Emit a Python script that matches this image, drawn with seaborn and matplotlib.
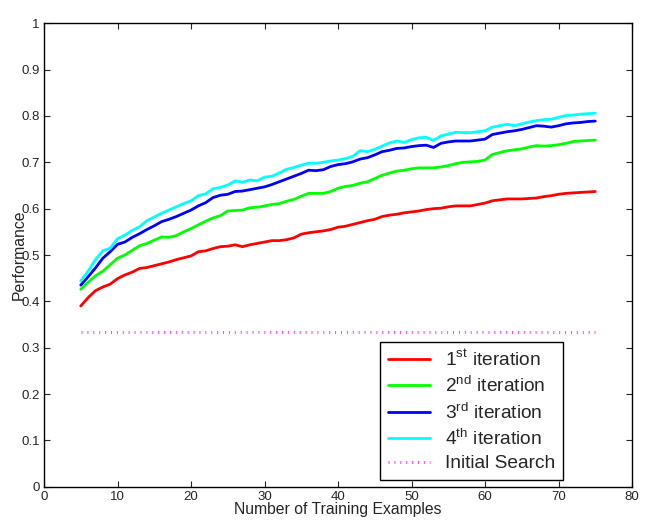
import matplotlib
matplotlib.use("Agg")
import matplotlib.pyplot as plt
import numpy as np
import pandas as pd
import seaborn as sns

# number of training examples
examples = list(range(5, 76))

iter1 = [0.390, 0.408, 0.423, 0.431, 0.437, 0.449, 0.457, 0.463, 0.471, 0.473,
         0.477, 0.481, 0.485, 0.490, 0.494, 0.498, 0.507, 0.509, 0.514, 0.518,
         0.519, 0.522, 0.518, 0.522, 0.525, 0.528, 0.531, 0.531, 0.533, 0.537,
         0.545, 0.548, 0.550, 0.552, 0.555, 0.560, 0.562, 0.566, 0.570, 0.574,
         0.577, 0.583, 0.586, 0.588, 0.591, 0.593, 0.595, 0.598, 0.600, 0.601,
         0.604, 0.606, 0.606, 0.606, 0.609, 0.612, 0.617, 0.619, 0.621, 0.621,
         0.621, 0.622, 0.623, 0.626, 0.628, 0.631, 0.633, 0.634, 0.635, 0.636,
         0.637]
iter2 = [0.426, 0.441, 0.455, 0.465, 0.479, 0.493, 0.500, 0.510, 0.520, 0.525,
         0.532, 0.539, 0.538, 0.542, 0.550, 0.557, 0.565, 0.573, 0.580, 0.585,
         0.595, 0.596, 0.597, 0.602, 0.603, 0.606, 0.609, 0.611, 0.616, 0.620,
         0.627, 0.633, 0.633, 0.633, 0.637, 0.644, 0.648, 0.650, 0.655, 0.658,
         0.665, 0.672, 0.677, 0.681, 0.683, 0.686, 0.688, 0.688, 0.688, 0.690,
         0.693, 0.697, 0.700, 0.701, 0.702, 0.705, 0.717, 0.721, 0.725, 0.727,
         0.729, 0.733, 0.736, 0.735, 0.736, 0.738, 0.741, 0.745, 0.746, 0.747,
         0.748]
iter3 = [0.435, 0.453, 0.472, 0.493, 0.507, 0.523, 0.528, 0.538, 0.546, 0.555,
         0.563, 0.572, 0.577, 0.583, 0.590, 0.597, 0.606, 0.613, 0.624, 0.629,
         0.631, 0.637, 0.638, 0.641, 0.644, 0.647, 0.652, 0.658, 0.664, 0.670,
         0.676, 0.683, 0.682, 0.684, 0.691, 0.695, 0.697, 0.701, 0.707, 0.710,
         0.716, 0.723, 0.726, 0.730, 0.731, 0.734, 0.736, 0.737, 0.732, 0.741,
         0.744, 0.746, 0.746, 0.746, 0.748, 0.750, 0.760, 0.763, 0.766, 0.768,
         0.771, 0.775, 0.779, 0.778, 0.776, 0.779, 0.783, 0.785, 0.786, 0.788,
         0.789]
iter4 = [0.444, 0.465, 0.490, 0.509, 0.515, 0.535, 0.543, 0.553, 0.561, 0.574,
         0.582, 0.590, 0.597, 0.604, 0.611, 0.617, 0.628, 0.632, 0.643, 0.646,
         0.651, 0.660, 0.657, 0.662, 0.660, 0.668, 0.670, 0.677, 0.685, 0.689,
         0.694, 0.698, 0.698, 0.700, 0.703, 0.705, 0.708, 0.713, 0.725, 0.723,
         0.728, 0.735, 0.742, 0.746, 0.743, 0.749, 0.753, 0.754, 0.747, 0.757,
         0.761, 0.765, 0.764, 0.764, 0.766, 0.768, 0.776, 0.779, 0.782, 0.779,
         0.783, 0.787, 0.790, 0.792, 0.793, 0.797, 0.801, 0.802, 0.804, 0.805,
         0.806]
initial_search = [0.333] * len(examples)

labels = ['1$^{\\rm st}$ iteration', '2$^{\\rm nd}$ iteration',
          '3$^{\\rm rd}$ iteration', '4$^{\\rm th}$ iteration']
colors = ['#ff0000', '#00ff00', '#0000ff', '#00ffff']

sns.set_style("ticks")
plt.rcParams['font.family'] = ['Liberation Sans', 'DejaVu Sans']
plt.rcParams['mathtext.fontset'] = 'custom'
plt.rcParams['mathtext.rm'] = 'Liberation Sans'

frames = []
for lab, vals in zip(labels, [iter1, iter2, iter3, iter4]):
    frames.append(pd.DataFrame({'examples': examples, 'perf': vals, 'run': lab}))
df = pd.concat(frames, ignore_index=True)

fig = plt.figure(figsize=(6.48, 5.21), dpi=100)
ax = fig.add_axes([44 / 648, 1 - 486.7 / 521, 588 / 648, 463.4 / 521])

sns.lineplot(data=df, x='examples', y='perf', hue='run', palette=colors,
             linewidth=2.0, ax=ax, legend=False)
sns.lineplot(x=examples, y=initial_search, color='#ff44ff', linewidth=2.2,
             ax=ax, legend=False)
ax.lines[-1].set_dashes((0.33, 1.6))
ax.lines[-1].set_dash_capstyle('butt')

ax.set_xlim(0, 80)
ax.set_ylim(0, 1)
ax.set_xticks(np.arange(0, 81, 10))
ax.set_yticks(np.arange(0, 1.01, 0.1))
ax.set_xticklabels([str(v) for v in range(0, 81, 10)])
ax.set_yticklabels(['0'] + ['%.1f' % v for v in np.arange(0.1, 0.95, 0.1)] + ['1'])
ax.tick_params(direction='in', top=True, right=True, length=4, width=0.8,
               labelsize=9.5, pad=3)
for s in ax.spines.values():
    s.set_visible(True)
    s.set_linewidth(1.0)
    s.set_color('black')

ax.set_xlabel('Number of Training Examples', fontsize=11.3)
ax.set_ylabel('Performance', fontsize=11.3)
ax.xaxis.set_label_coords(0.5, -0.049)
ax.yaxis.set_label_coords(-0.042, 0.5)
ax.xaxis.label.set_va('center')
ax.yaxis.label.set_va('center')

handles = ax.lines[:5]
leg = ax.legend(handles, labels + ['Initial Search'], loc='lower right',
                bbox_to_anchor=(0.8827, 0.0145), borderaxespad=0,
                fontsize=13.8, frameon=True, fancybox=False, handlelength=2.2,
                handletextpad=0.8, labelspacing=0.3, borderpad=0.4)
leg.get_frame().set_edgecolor('black')
leg.get_frame().set_linewidth(1.0)
leg.get_frame().set_alpha(1)

fig.savefig('out.png', dpi=100)
